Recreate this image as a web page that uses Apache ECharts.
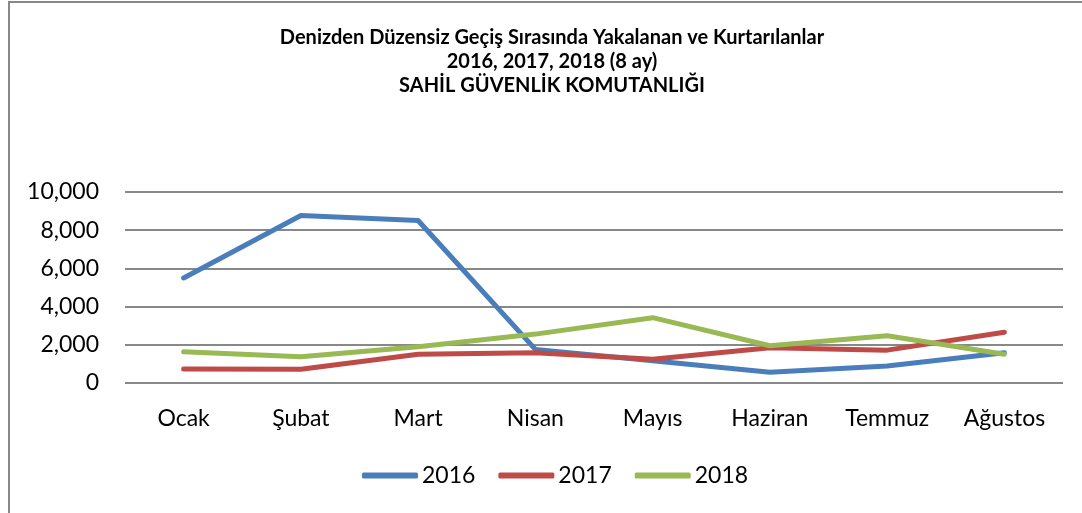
<!DOCTYPE html>
<html lang="tr">
<head>
    <meta charset="UTF-8">
    <title>Denizden Düzensiz Geçiş</title>
    <style>
        html, body { margin: 0; padding: 0; background: #fff; }
        #chart { width: 1082px; height: 513px; }
    </style>
</head>
<body>
    <div id="chart"></div>
</body>
<script type="text/javascript" src="https://cdn.jsdelivr.net/npm/echarts@6/dist/echarts.min.js"></script>
<script type="text/javascript">
    // aylar
    const months = ['Ocak', 'Şubat', 'Mart', 'Nisan', 'Mayıs', 'Haziran', 'Temmuz', 'Ağustos']
    const years = ['2016', '2017', '2018']
    const colors = ['#4a7ebb', '#be4b48', '#98b954']

    // değerler (8 ay)
    const data2016 = [5500, 8770, 8510, 1760, 1160, 560, 890, 1580]
    const data2017 = [730, 715, 1500, 1580, 1240, 1845, 1720, 2660]
    const data2018 = [1630, 1370, 1900, 2560, 3420, 1950, 2470, 1510]

    const titleLines = [
        'Denizden Düzensiz Geçiş Sırasında Yakalanan ve Kurtarılanlar',
        '2016, 2017, 2018 (8 ay)',
        'SAHİL GÜVENLİK KOMUTANLIĞI'
    ]

    const font = 'Lato, "Open Sans", sans-serif'
    const myChart = echarts.init(document.getElementById('chart'))

    const series = [data2016, data2017, data2018].map(function (d, i) {
        return {
            name: years[i],
            type: 'line',
            data: d,
            symbol: 'none',
            lineStyle: { width: 5, color: colors[i], cap: 'round', join: 'round' },
            itemStyle: { color: colors[i] }
        }
    })

    const option = {
        animation: false,
        backgroundColor: '#fff',
        legend: {
            data: years,
            left: 357,
            top: 459,
            itemWidth: 56,
            itemHeight: 6,
            itemGap: 23,
            icon: 'roundRect',
            textStyle: { fontFamily: font, fontSize: 23, color: '#000', padding: [0, 0, 0, -1] }
        },
        grid: { left: 125, right: 19, top: 192, bottom: 130 },
        xAxis: {
            type: 'category',
            data: months,
            boundaryGap: true,
            axisTick: { show: false },
            axisLine: { show: false },
            axisLabel: { fontFamily: font, fontSize: 23, color: '#000', margin: 24 }
        },
        yAxis: {
            type: 'value',
            min: 0,
            max: 10000,
            interval: 2000,
            axisLine: { show: false },
            axisTick: { show: false },
            splitLine: { lineStyle: { color: '#888', width: 2 } },
            axisLabel: {
                fontFamily: font,
                fontSize: 23,
                color: '#000',
                margin: 26,
                formatter: function (v) { return v.toLocaleString('en-US') }
            }
        },
        graphic: [{
            type: 'polyline',
            shape: { points: [[9, 513], [9, 2], [1082, 2]] },
            style: { stroke: '#888', lineWidth: 2, fill: null },
            silent: true
        }, {
            // başlık: ortanın biraz sağında
            type: 'text',
            x: 552,
            y: 26,
            silent: true,
            style: {
                text: titleLines.join('\n'),
                textAlign: 'center',
                fontFamily: font,
                fontSize: 20,
                fontWeight: 'bold',
                fill: '#000',
                lineHeight: 24
            }
        }],
        series: series
    }

    myChart.setOption(option)
</script>
</html>
